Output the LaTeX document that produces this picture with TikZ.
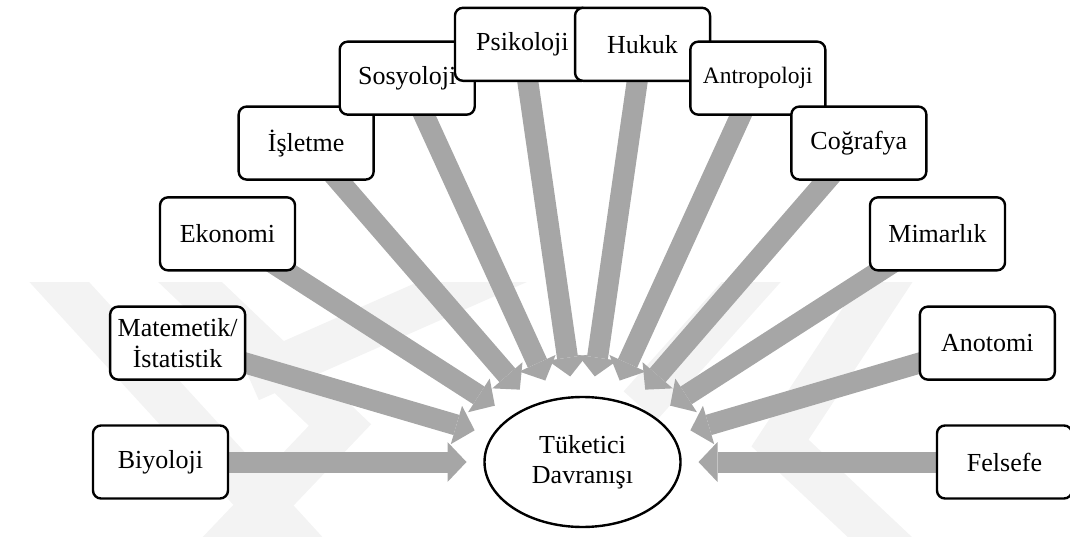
\documentclass[tikz,border=0pt]{standalone}
\usepackage{fontspec}
\setmainfont{Liberation Serif}
\usetikzlibrary{arrows.meta,calc,shapes.geometric}
\definecolor{arrowgray}{RGB}{166,166,166}
\definecolor{markgray}{RGB}{243,243,243}
\pgfdeclarelayer{mark}
\pgfdeclarelayer{flows}
\pgfsetlayers{mark,flows,main}

\begin{document}
\begin{tikzpicture}[x=1pt,y=1pt,
  field/.style={draw=black, line width=2.4pt, rounded corners=8pt, fill=white,
    minimum width=135pt, minimum height=73pt, inner sep=2pt, align=center,
    font=\fontsize{26}{31}\selectfont},
  core/.style={ellipse, draw=black, line width=2.4pt, fill=white,
    minimum width=196pt, minimum height=130pt, inner sep=0pt, align=center,
    font=\fontsize{26}{30}\selectfont},
  flow/.style={draw=arrowgray, line width=21pt,
    -{Triangle[width=40pt,length=19pt,line width=0pt]}},
  band/.style={draw=markgray, line width=44pt, line join=miter}
]
\useasboundingbox (0,0) rectangle (1070,536);

% centre of the fan
\coordinate (C) at (582.5,74);

% disciplines placed on a circle around the centre
\node[field] (n0)  at ($(C)+(180:422)$) {Biyoloji};
\node[field] (n1)  at ($(C)+({180-1*180/11}:422)$) {Matemetik/\\İstatistik};
\node[field] (n2)  at ($(C)+({180-2*180/11}:422)$) {Ekonomi};
\node[field] (n3)  at ($(C)+({180-3*180/11}:422)$) {İşletme};
\node[field] (n4)  at ($(C)+({180-4*180/11}:422)$) {Sosyoloji};
\node[field] (n5)  at ($(C)+({180-5*180/11}:422)$) {Psikoloji};
\node[field] (n6)  at ($(C)+({180-6*180/11}:422)$) {Hukuk};
\node[field, font=\fontsize{23.5}{28}\selectfont] (n7) at ($(C)+({180-7*180/11}:422)$) {Antropoloji};
\node[field] (n8)  at ($(C)+({180-8*180/11}:422)$) {Coğrafya};
\node[field] (n9)  at ($(C)+({180-9*180/11}:422)$) {Mimarlık};
\node[field] (n10) at ($(C)+({180-10*180/11}:422)$) {Anotomi};
\node[field] (n11) at ($(C)+(0:422)$) {Felsefe};

% central ellipse
\node[core] (tb) at (C) {Tüketici\\Davranışı};

% arrow tips lie on an ellipse around the centre
\foreach \k in {0,...,11}{
  \pgfmathsetmacro\ang{180-\k*180/11}
  \pgfmathsetmacro\rad{116*86/sqrt((86*cos(\ang))^2+(116*sin(\ang))^2)}
  \coordinate (tip\k) at ($(C)+(\ang:\rad)$);
}

% gray block arrows behind the boxes
\begin{pgfonlayer}{flows}
\foreach \k in {0,...,11}{
  \draw[flow] (n\k.center) -- (tip\k);
}
\end{pgfonlayer}

% faint chevrons in the background
\begin{pgfonlayer}{mark}
\begin{scope}
\clip (0,0) rectangle (1070,253);
\draw[band] (40,275) -- (310,-20);
\draw[band] (168,275) -- (340,111) -- (215,-20);
\draw[band] (250,156) -- (520,275);
\draw[band] (900,275) -- (780,93) -- (900,-20);
\draw[band] (770,275) -- (640,130);
\end{scope}
\end{pgfonlayer}
\end{tikzpicture}
\end{document}
